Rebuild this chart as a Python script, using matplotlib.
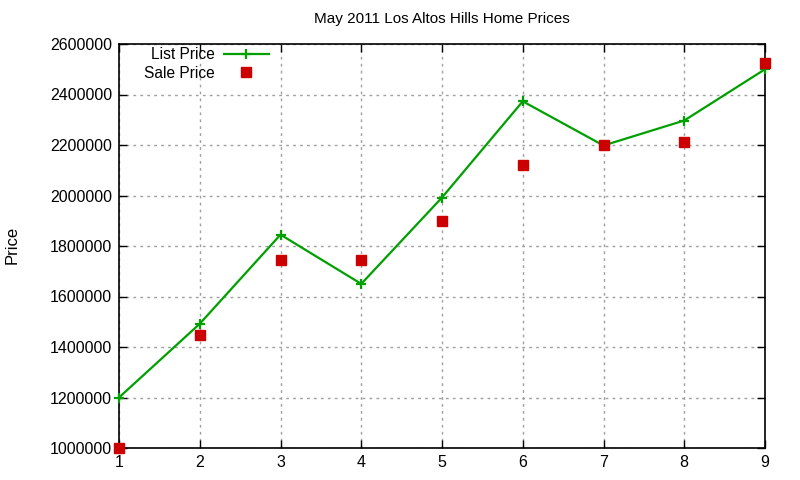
import matplotlib
matplotlib.use("Agg")
import matplotlib.pyplot as plt

months = [1, 2, 3, 4, 5, 6, 7, 8, 9]
list_price = [1200000, 1492000, 1845000, 1650000, 1992000, 2373000, 2198000, 2297000, 2500000]
sale_price = [1000000, 1448000, 1746000, 1746000, 1899000, 2122000, 2200000, 2212000, 2525000]
yticks = [1000000, 1200000, 1400000, 1600000, 1800000, 2000000, 2200000, 2400000, 2600000]

plt.rcParams['font.family'] = ['Liberation Sans', 'DejaVu Sans']

fig = plt.figure(figsize=(8, 4.8), dpi=100)
ax = fig.add_axes([119/800, 1-448/480, (765-119)/800, (448-44)/480])

ax.plot(months, list_price, color='#00a000', lw=1.6, marker='+', ms=7, mew=1.6,
        label='List Price', clip_on=False, zorder=3)
ax.plot(months, sale_price, color='#cc0000', ls='none', marker='s', ms=6.5,
        label='Sale Price', clip_on=False, zorder=4)

ax.set_xlim(1, 9)
ax.set_ylim(1000000, 2600000)
ax.set_xticks(months)
ax.set_yticks(yticks)
ax.set_yticklabels([str(v) for v in yticks])
ax.tick_params(direction='in', length=6, width=1, top=True, right=True, labelsize=11.5, pad=5)
ax.grid(True, color='#a0a0a0', ls=(0, (2, 3)), lw=1)
for s in ax.spines.values():
    s.set_linewidth(1.2)

ax.set_title('May 2011 Los Altos Hills Home Prices', fontsize=11, pad=15)
fig.text(12/800, 1-245/480, 'Price', rotation=90, ha='center', va='center', fontsize=12)

leg = ax.legend(loc='upper left', bbox_to_anchor=(0.025, 1.015), markerfirst=False,
                frameon=False, fontsize=11.2, handlelength=2.9, handletextpad=0.55,
                labelspacing=0.22, borderaxespad=0.2)
for t in leg.get_texts():
    t.set_ha('right')

fig.savefig('out.png', dpi=100)
